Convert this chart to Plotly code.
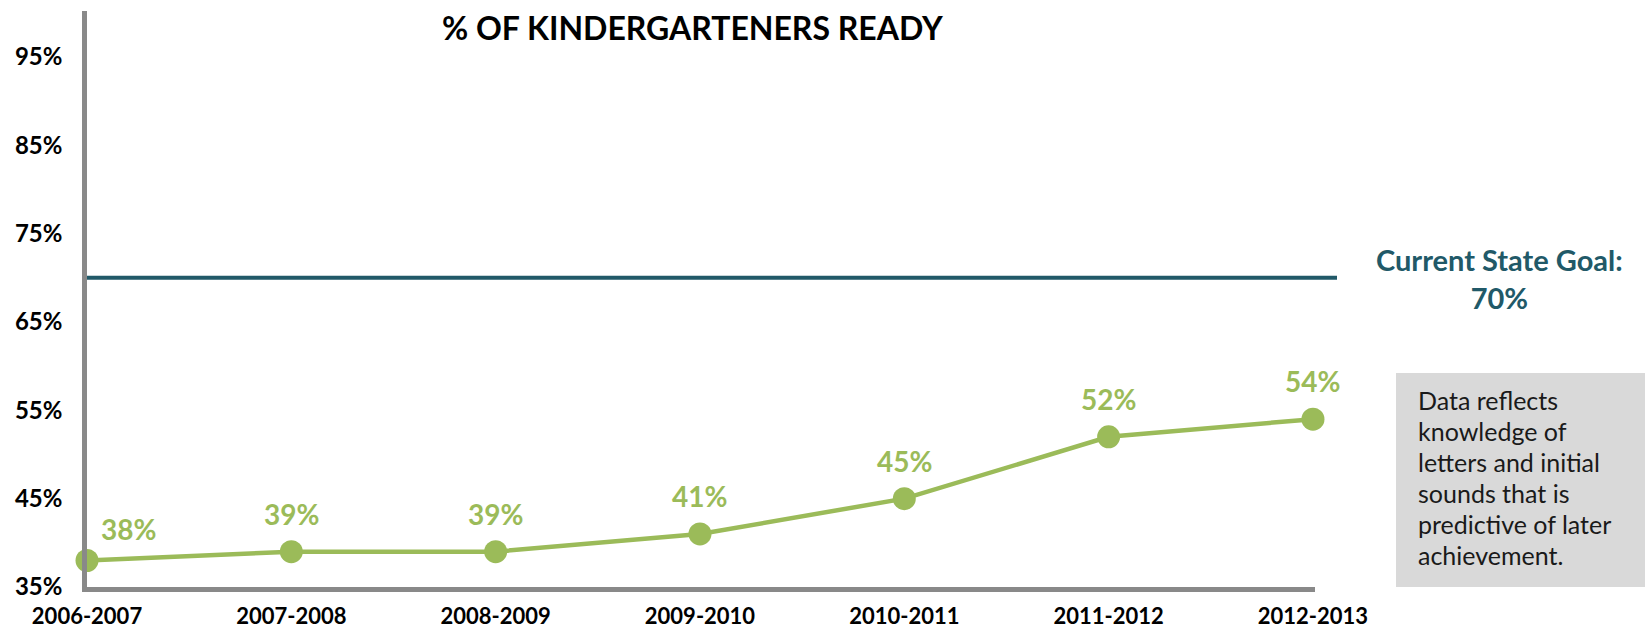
import plotly.graph_objects as go

years = ["2006-2007", "2007-2008", "2008-2009", "2009-2010", "2010-2011", "2011-2012", "2012-2013"]
ready = [38, 39, 39, 41, 45, 52, 54]
goal = 70
y_ticks = [35, 45, 55, 65, 75, 85, 95]
y_tick_text = ["35%", "45%", "55%", "65%", "75%", "85%", "95%"]
note_lines = ["Data reflects", "knowledge of", "letters and initial", "sounds that is", "predictive of later", "achievement."]

GREEN = "#9BBB59"
TEAL = "#215968"
GRAY = "#898989"
FONT = "Lato"

YMIN, YMAX = 35, 100.2
L, R, T, B = 87, 330, 11, 46
W, H = 1645, 633
PW, PH = W - L - R, H - T - B

def px_x(x):
    return (x - L) / PW

def px_y(y):
    return (H - B - y) / PH

xs = list(range(len(years)))

fig = go.Figure()
fig.add_trace(go.Scatter(
    x=xs, y=ready, mode="lines+markers",
    line=dict(color=GREEN, width=4.5),
    marker=dict(color=GREEN, size=23),
    cliponaxis=False, hoverinfo="skip", showlegend=False,
))

annotations = []
for i, v in enumerate(ready):
    annotations.append(dict(
        x=xs[i], y=v, xref="x", yref="y", text=f"{v}%", showarrow=False,
        xanchor="center", yanchor="middle",
        xshift=41 if i == 0 else 0, yshift=32 if i == 0 else 38,
        font=dict(family=FONT, size=28, color=GREEN, weight="bold"),
    ))

annotations.append(dict(
    x=px_x(692), y=px_y(27), xref="paper", yref="paper",
    text="% OF KINDERGARTENERS READY", showarrow=False,
    xanchor="center", yanchor="middle",
    font=dict(family=FONT, size=32, color="#000000", weight="bold"),
))

annotations.append(dict(
    x=px_x(1499), y=px_y(278), xref="paper", yref="paper",
    text=f"Current State Goal:<br>{goal}%", showarrow=False,
    xanchor="center", yanchor="middle", align="center",
    font=dict(family=FONT, size=29, color=TEAL, weight="bold"),
))

for k, line in enumerate(note_lines):
    annotations.append(dict(
        x=px_x(1416), y=px_y(400 + 31 * k), xref="paper", yref="paper",
        text=line, showarrow=False, xanchor="left", yanchor="middle",
        font=dict(family=FONT, size=25, color="#1a1a1a"),
    ))

goal_paper = (goal - YMIN) / (YMAX - YMIN)
shapes = [
    dict(type="line", xref="paper", yref="paper", x0=0, x1=px_x(1337),
         y0=goal_paper, y1=goal_paper, line=dict(color=TEAL, width=4)),
    dict(type="rect", xref="paper", yref="paper", x0=px_x(1396), x1=px_x(1650),
         y0=px_y(587), y1=px_y(373), fillcolor="#D9D9D9", line=dict(width=0),
         layer="below"),
]

fig.update_layout(
    width=W, height=H,
    margin=dict(l=L, r=R, t=T, b=B, autoexpand=False),
    paper_bgcolor="white", plot_bgcolor="white",
    annotations=annotations, shapes=shapes,
    xaxis=dict(
        range=[0, 6.01], tickvals=xs, ticktext=years, automargin=False,
        showgrid=False, zeroline=False, showline=True, linecolor=GRAY, linewidth=4.5,
        ticks="", ticklabelstandoff=6,
        tickfont=dict(family=FONT, size=22, color="#000000", weight="bold"),
    ),
    yaxis=dict(
        range=[YMIN, YMAX], tickvals=y_ticks, ticktext=y_tick_text, automargin=False,
        showgrid=False, zeroline=False, showline=True, linecolor=GRAY, linewidth=4.5,
        ticks="", ticklabelstandoff=15,
        tickfont=dict(family=FONT, size=24, color="#000000", weight="bold"),
    ),
)

fig.write_html(
    "out.html",
    config={"displayModeBar": False},
    post_script="document.body.style.margin='0';document.body.style.overflow='hidden';",
)
